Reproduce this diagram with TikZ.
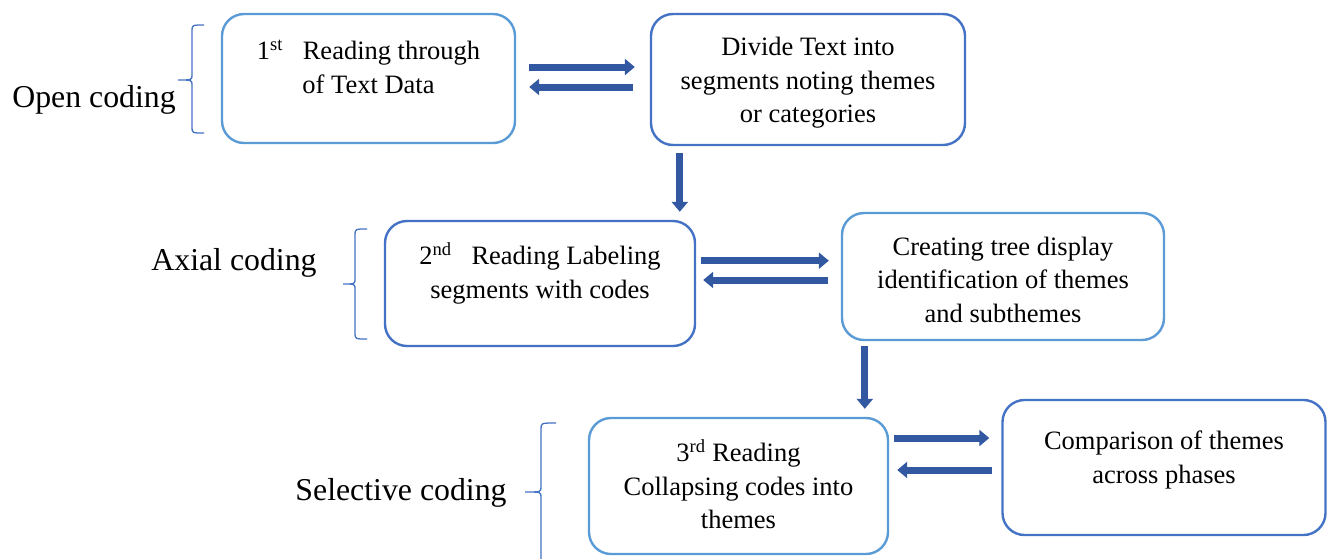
\documentclass[tikz,border=0pt]{standalone}
\usepackage{fontspec}
\setmainfont{Liberation Serif}
\usetikzlibrary{calc,arrows.meta}
\definecolor{lightb}{HTML}{5B9BD5}
\definecolor{darkb}{HTML}{4472C4}
\definecolor{arrowb}{HTML}{3158A0}
\tikzset{
  box/.style={draw, line width=2.4pt, rounded corners=22pt, inner sep=0pt, fill=white},
  lbox/.style={box, draw=lightb},
  dbox/.style={box, draw=darkb},
  txt/.style={align=center, inner sep=0pt, font=\fontsize{26.5}{33.5}\selectfont},
  lab/.style={anchor=base, inner sep=0pt, font=\fontsize{31.8}{36}\selectfont},
  barrow/.style={draw=arrowb, line width=7pt, -{Triangle[length=10pt,width=16pt]}},
  brace/.style={draw=darkb, line width=1.3pt},
}
\begin{document}
\begin{tikzpicture}[x=1pt,y=-1pt]
\useasboundingbox (0,0) rectangle (1328,558);
% boxes
\node[lbox, minimum width=293pt, minimum height=129pt] (b1) at (368.5,78.5) {};
\node[dbox, minimum width=314pt, minimum height=131pt] (b2) at (808,79.5) {};
\node[dbox, minimum width=310pt, minimum height=125pt] (b3) at (540,283.5) {};
\node[lbox, minimum width=322pt, minimum height=127pt] (b4) at (1003,276.5) {};
\node[lbox, minimum width=299pt, minimum height=136pt] (b5) at (738.5,486) {};
\node[dbox, minimum width=323pt, minimum height=135pt] (b6) at (1164,467.5) {};
% box texts
\node[txt] (t1) at ($(b1.center)+(0pt,11.5pt)$) {1\textsuperscript{st}\hspace{0.75em}Reading through\\of Text Data};
\node[txt] (t2) at ($(b2.center)+(0pt,-3.5pt)$) {Divide Text into\\segments noting themes\\or categories};
\node[txt] (t3) at ($(b3.center)+(0pt,10pt)$) {2\textsuperscript{nd}\hspace{0.75em}Reading Labeling\\segments with codes};
\node[txt] (t4) at ($(b4.center)+(0pt,-3pt)$) {Creating tree display\\identification of themes\\and subthemes};
\node[txt] (t5) at ($(b5.center)+(0pt,1.5pt)$) {3\textsuperscript{rd} Reading\\Collapsing codes into\\themes};
\node[txt] (t6) at ($(b6.center)+(0pt,7.5pt)$) {Comparison of themes\\across phases};
% labels
\node[lab] (l1) at (94,107) {Open coding};
\node[lab] (l2) at (234,270) {Axial coding};
\node[lab] (l3) at (401,500) {Selective coding};
% braces
\draw[brace] (204,25) .. controls (192,25) .. (192,31) -- (192,75) .. controls (192,80) .. (178,80)
  .. controls (192,80) .. (192,85) -- (192,127) .. controls (192,133) .. (204,133);
\draw[brace] (367,229) .. controls (355,229) .. (355,235) -- (355,279) .. controls (355,284) .. (343,284)
  .. controls (355,284) .. (355,289) -- (355,333) .. controls (355,339) .. (367,339);
\draw[brace] (556,423) .. controls (541,423) .. (541,429) -- (541,487) .. controls (541,492) .. (525,492)
  .. controls (541,492) .. (541,497) -- (541,560);
% arrows
\draw[barrow] ($(b1.east)+(13pt,11.5pt)$) -- ($(b2.west)+(-15pt,12.5pt)$);
\draw[barrow] ($(b2.west)+(-17pt,-7.5pt)$) -- ($(b1.east)+(13pt,-8.5pt)$);
\draw[barrow] ($(b2.south west)+(30pt,-7pt)$) -- ($(b2.south west |- b3.north)+(30pt,8pt)$);
\draw[barrow] ($(b3.east)+(5pt,22.8pt)$) -- ($(b4.west)+(-12pt,15.8pt)$);
\draw[barrow] ($(b4.west)+(-13pt,-3.5pt)$) -- ($(b3.east)+(7pt,3.5pt)$);
\draw[barrow] ($(b4.south west)+(24pt,-5pt)$) -- ($(b4.south west |- b5.north)+(24pt,8pt)$);
\draw[barrow] ($(b5.east)+(5pt,48pt)$) -- ($(b6.west)+(-12pt,29.5pt)$);
\draw[barrow] ($(b6.west)+(-9pt,-2.5pt)$) -- ($(b5.east)+(8pt,16pt)$);
\end{tikzpicture}
\end{document}
